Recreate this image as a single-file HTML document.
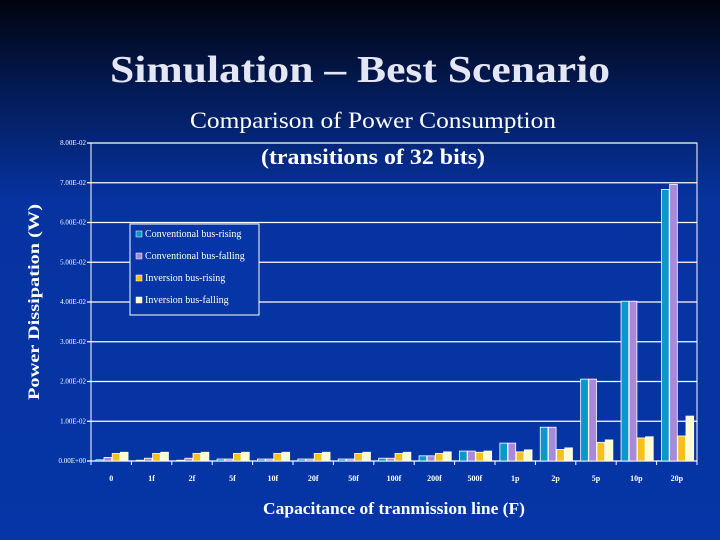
<!DOCTYPE html>
<html><head><meta charset="utf-8"><style>
html,body{margin:0;padding:0;}
body{width:720px;height:540px;overflow:hidden;background:linear-gradient(180deg,#01040f 0px,#031a55 90px,#0633a0 200px,#0535a6 540px);font-family:"Liberation Serif",serif;}
</style></head><body>
<svg width="720" height="540" viewBox="0 0 720 540" xmlns="http://www.w3.org/2000/svg" style="position:absolute;left:0;top:0">
<text x="360" y="82" text-anchor="middle" font-family="Liberation Serif" font-weight="bold" font-size="38" fill="#e4e6f4" textLength="500" lengthAdjust="spacingAndGlyphs">Simulation – Best Scenario</text>
<text x="373" y="128" text-anchor="middle" font-family="Liberation Serif" font-size="23" fill="#fff" textLength="366" lengthAdjust="spacingAndGlyphs">Comparison of Power Consumption</text>
<text x="373" y="164" text-anchor="middle" font-family="Liberation Serif" font-weight="bold" font-size="22" fill="#fff" textLength="224" lengthAdjust="spacingAndGlyphs">(transitions of 32 bits)</text>
<g id="grid"></g><g id="bars"></g><g id="axes"></g>
<text transform="translate(39,302) rotate(-90)" text-anchor="middle" font-family="Liberation Serif" font-weight="bold" font-size="16" fill="#fff" textLength="196" lengthAdjust="spacingAndGlyphs">Power Dissipation (W)</text>
<text x="394" y="514" text-anchor="middle" font-family="Liberation Serif" font-weight="bold" font-size="17" fill="#fff" textLength="262" lengthAdjust="spacingAndGlyphs">Capacitance of tranmission line (F)</text>
<g>
<rect x="130" y="224" width="129" height="91" fill="#0535a6" stroke="#fff" stroke-width="1"/>
<g id="legend"></g>
</g>
</svg>
<script>
const categories=["0","1f","2f","5f","10f","20f","50f","100f","200f","500f","1p","2p","5p","10p","20p"];
const convRising=[0.0003,0.0002,0.0002,0.0005,0.0005,0.0005,0.0005,0.0007,0.0013,0.0025,0.0045,0.0085,0.0206,0.0402,0.0683];
const convFalling=[0.0009,0.0007,0.0007,0.0005,0.0005,0.0005,0.0005,0.0007,0.0013,0.0025,0.0045,0.0085,0.0206,0.0402,0.0696];
const invRising=[0.0019,0.0019,0.0019,0.0019,0.0019,0.0019,0.0019,0.0019,0.0019,0.0022,0.0023,0.0029,0.0047,0.0058,0.0063];
const invFalling=[0.0022,0.0022,0.0022,0.0022,0.0022,0.0022,0.0022,0.0022,0.0023,0.0025,0.0028,0.0033,0.0053,0.0061,0.0113];
const yTicks=[0,0.01,0.02,0.03,0.04,0.05,0.06,0.07,0.08];
const yTickLabels=["0.00E+00","1.00E-02","2.00E-02","3.00E-02","4.00E-02","5.00E-02","6.00E-02","7.00E-02","8.00E-02"];
const seriesNames=["Conventional bus-rising","Conventional bus-falling","Inversion bus-rising","Inversion bus-falling"];
const NS="http://www.w3.org/2000/svg";
const L=91,R=697,T=143,B=461;
const y=v=>B-(v/0.08)*(B-T);
const cw=(R-L)/categories.length;
const x=i=>L+i*cw;
const colors=["#0a98c8","#a98ad8","#f2c21a","#fefed0"];
function mk(t,a,p){const e=document.createElementNS(NS,t);for(const k in a)e.setAttribute(k,a[k]);p.appendChild(e);return e;}
const grid=document.getElementById('grid'),bars=document.getElementById('bars'),axes=document.getElementById('axes');
mk('rect',{x:L,y:T,width:R-L,height:B-T,fill:"none",stroke:"#fff","stroke-width":1},grid);
yTicks.forEach((v,i)=>{
 const l=mk('line',{x1:L-4,x2:R,y1:y(v),y2:y(v),stroke:"#fff","stroke-width":1.2},grid);
 
 
 const t=mk('text',{x:L-5,y:y(v)+2,"text-anchor":"end","font-size":"7",fill:"#fff","font-family":"Liberation Serif"},axes);
 
 
 t.textContent=yTickLabels[i];
});
const series=[convRising,convFalling,invRising,invFalling];
const bw=cw*0.19, off=cw*0.12;
categories.forEach((c,i)=>{
 series.forEach((s,j)=>{
  const r=mk('rect',{x:x(i)+off+j*(bw+0.5),y:y(s[i]),width:bw,height:B-y(s[i]),fill:colors[j],stroke:"#fff","stroke-width":0.8},bars);
  
  
 });
 mk('line',{x1:x(i),x2:x(i),y1:B,y2:B+4,stroke:"#fff"},axes);
 const t=mk('text',{x:x(i)+cw/2,y:B+20,"text-anchor":"middle","font-size":"8","font-weight":"bold",fill:"#fff","font-family":"Liberation Serif"},axes);
 
 
 t.textContent=c;
});
mk('line',{x1:R,x2:R,y1:B,y2:B+4,stroke:"#fff"},axes);
const lg=document.getElementById('legend');
seriesNames.forEach((n,j)=>{
 const yy=237+j*22;
 const g=mk('g',{},lg);
 
 
 mk('rect',{x:136,y:yy-6,width:6,height:6,fill:colors[j],stroke:"#fff","stroke-width":0.5},g);
 const t=mk('text',{x:145,y:yy,"font-size":"10",fill:"#fff","font-family":"Liberation Serif"},g);
 t.textContent=n;
});
</script>
</body></html>
